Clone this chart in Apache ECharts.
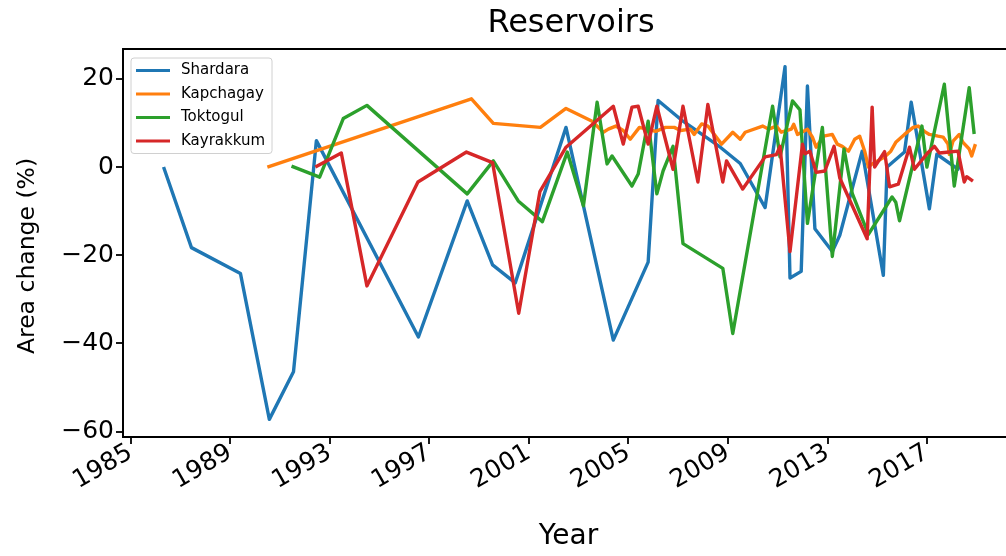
<!DOCTYPE html>
<html>
<head>
<meta charset="utf-8">
<script src="https://cdn.jsdelivr.net/npm/echarts@6/dist/echarts.min.js"></script>
<style>
  html, body { margin: 0; padding: 0; background: #fff; overflow: hidden; }
  /* canvas is a little wider than the page so the plot box runs past the right edge */
  #chart { width: 1020px; height: 556px; }
</style>
</head>
<body>
<div id="chart"></div>
<script>
// Reservoir surface-area change (%) by decimal year
const shardaraYears = [1986.33, 1987.45, 1989.42, 1990.58, 1991.55, 1992.47, 1996.57, 1998.53, 1999.55, 2000.46,
  2002.5, 2004.4, 2005.8, 2006.2, 2007.2, 2008.7, 2009.5, 2010.5, 2011.3, 2011.5, 2011.95, 2012.2, 2012.5,
  2013.2, 2013.5, 2014.4, 2015.25, 2015.4, 2016.1, 2016.37, 2017.1, 2017.4, 2018.25, 2018.35];
const shardaraValues = [0, -18.3, -24.2, -57.3, -46.5, 6, -38.6, -7.7, -22.2, -26.3,
  9, -39.3, -21.6, 15.1, 10.4, 4.5, 0.8, -9.2, 22.8, -25.2, -23.7, 18.4, -14,
  -19.2, -15.5, 3.6, -24.6, 0, 3.4, 14.7, -9.5, 2.9, -0.5, 1];

const kapchagayYears = [1990.5, 1998.7, 1999.58, 2001.47, 2002.5, 2003.55, 2004.0, 2004.2, 2004.5, 2004.8,
  2005.08, 2005.45, 2005.75, 2006.1, 2006.5, 2006.85, 2007.1, 2007.5, 2007.65, 2007.95, 2008.2, 2008.75,
  2009.2, 2009.5, 2009.7, 2010.4, 2010.65, 2010.95, 2011.15, 2011.55, 2011.65, 2011.8, 2012.2, 2012.4,
  2012.55, 2012.85, 2013.2, 2013.4, 2013.6, 2013.85, 2014.1, 2014.3, 2014.5, 2014.65, 2014.8, 2015.3,
  2015.55, 2015.75, 2016.1, 2016.45, 2016.65, 2016.9, 2017.1, 2017.45, 2017.65, 2017.85, 2017.9, 2018.05,
  2018.3, 2018.45, 2018.7, 2018.8, 2018.95];
const kapchagayValues = [0, 15.5, 9.9, 9, 13.3, 10.4, 7.9, 8.6, 9.3, 8.3,
  6.3, 9, 8.6, 8.1, 9, 9, 8.3, 8.6, 7.4, 9.8, 9.3, 5.2,
  7.9, 6.3, 7.9, 9.3, 8.6, 9.3, 7.9, 8.6, 9.7, 7.4, 8.6, 6.8,
  4.5, 7.0, 7.4, 5.2, 4.7, 3.6, 6.3, 7.0, 3.6, 0, 0.7, 2.3,
  3.6, 5.6, 7.4, 9, 9.3, 8.1, 7.4, 7, 6.8, 5.2, 2.9, 5.9,
  7.4, 5.6, 4.1, 2.5, 5.2];

const toktogulYears = [1991.47, 1992.6, 1993.55, 1994.5, 1998.53, 1999.58, 2000.58, 2001.55, 2002.55, 2003.2,
  2003.75, 2004.15, 2004.35, 2005.15, 2005.4, 2005.8, 2006.15, 2006.4, 2006.8, 2007.2, 2008.8, 2009.2,
  2010.8, 2011.1, 2011.6, 2011.9, 2012.2, 2012.8, 2013.2, 2013.67, 2014.0, 2014.65, 2015.6, 2015.75,
  2015.9, 2016.8, 2017.0, 2017.7, 2018.1, 2018.7, 2018.9];
const toktogulValues = [0.2, -2.3, 11, 14, -6.1, 1.4, -7.7, -12.4, 3.4, -8.8,
  14.7, 0.7, 2.5, -4.3, -1.6, 10.4, -6.1, -0.9, 4.7, -17.4, -23, -37.8,
  13.8, 2.3, 15, 13, -12.8, 9, -20.3, 4.1, -6, -15.3, -6.8, -8,
  -12.2, 9.3, 0, 18.8, -4.3, 18, 7.5];

const kayrakkumYears = [1992.43, 1993.47, 1994.5, 1996.55, 1998.5, 1999.55, 2000.6, 2001.45, 2002.5, 2004.4,
  2004.8, 2005.15, 2005.4, 2005.8, 2006.15, 2006.8, 2007.2, 2007.8, 2008.2, 2008.8, 2008.95, 2009.6,
  2010.5, 2010.95, 2011.1, 2011.5, 2012.0, 2012.1, 2012.3, 2012.55, 2012.9, 2013.27, 2013.5, 2014.6,
  2014.8, 2014.9, 2015.3, 2015.5, 2015.85, 2016.3, 2016.5, 2017.0, 2017.3, 2017.5, 2017.9, 2018.25,
  2018.5, 2018.6, 2018.85];
const kayrakkumValues = [0, 3.2, -27, -3.4, 3.4, 1, -33.2, -5.6, 4.5, 13.8,
  5.2, 13.6, 13.8, 5.2, 13.8, -0.5, 13.8, -3.4, 14.2, -3.4, 1.4, -5,
  2.3, 2.8, 4.7, -19.2, 5.2, 3, 3.6, -1.2, -0.9, 4.7, -2.5, -16.3,
  13.6, 0, 3.5, -4.5, -3.9, 4.5, -0.5, 3, 4.7, 3.2, 3.4, 3.6,
  -3.4, -2.2, -3.2];

const xTickYears = [1985, 1989, 1993, 1997, 2001, 2005, 2009, 2013, 2017];
const yTickValues = [-60, -40, -20, 0, 20];

const seriesNames = ['Shardara', 'Kapchagay', 'Toktogul', 'Kayrakkum'];
const seriesColors = ['#1f77b4', '#ff7f0e', '#2ca02c', '#d62728'];
const seriesYears = [shardaraYears, kapchagayYears, toktogulYears, kayrakkumYears];
const seriesValues = [shardaraValues, kapchagayValues, toktogulValues, kayrakkumValues];

const zip = (xs, ys) => xs.map((x, i) => [x, ys[i]]);
const FONT = 'DejaVu Sans';

const chart = echarts.init(document.getElementById('chart'), null, { renderer: 'canvas' });

chart.setOption({
  animation: false,
  backgroundColor: '#ffffff',
  title: {
    text: 'Reservoirs',
    left: 566,
    top: 3,
    textAlign: 'center',
    textStyle: { fontFamily: FONT, fontSize: 32, fontWeight: 'normal', color: '#000' }
  },
  legend: {
    orient: 'vertical',
    left: 131,
    top: 58,
    padding: [5, 7, 5, 5],
    itemGap: 8.5,
    itemWidth: 34,
    itemHeight: 3,
    icon: 'rect',
    backgroundColor: '#fff',
    borderColor: '#d0d0d0',
    borderWidth: 1,
    borderRadius: 3,
    textStyle: { fontFamily: FONT, fontSize: 15, color: '#000', padding: [0, 0, 0, 6] },
    data: seriesNames
  },
  // vertical axis title
  graphic: [{
    type: 'text',
    x: 28,
    y: 256,
    rotation: Math.PI / 2,
    style: {
      text: 'Area change (%)',
      fontFamily: FONT,
      fontSize: 23.5,
      fill: '#000',
      align: 'center',
      verticalAlign: 'middle'
    }
  }],
  grid: {
    left: 123,
    right: 6,
    top: 49,
    bottom: 116,
    show: true,
    borderColor: '#000',
    borderWidth: 1.8,
    containLabel: false
  },
  xAxis: {
    type: 'value',
    min: 1984.7,
    max: 2020.5,
    name: 'Year',
    nameLocation: 'middle',
    nameGap: 86,
    nameTextStyle: { fontFamily: FONT, fontSize: 28, color: '#000' },
    splitLine: { show: false },
    axisLine: { show: true, onZero: false, lineStyle: { color: '#000', width: 1.8 } },
    axisTick: { show: true, length: 7, lineStyle: { color: '#000', width: 1.8 }, customValues: xTickYears },
    axisLabel: {
      customValues: xTickYears,
      rotate: 30,
      margin: 14,
      fontFamily: FONT,
      fontSize: 25,
      color: '#000',
      formatter: v => String(Math.round(v))
    }
  },
  yAxis: {
    type: 'value',
    min: -61.3,
    max: 26.8,
    splitLine: { show: false },
    axisLine: { show: true, onZero: false, lineStyle: { color: '#000', width: 1.8 } },
    axisTick: { show: true, length: 7, lineStyle: { color: '#000', width: 1.8 }, customValues: yTickValues },
    axisLabel: {
      customValues: yTickValues,
      margin: 9,
      fontFamily: FONT,
      fontSize: 25,
      color: '#000',
      formatter: v => String(Math.round(v)).replace('-', '\u2212')
    }
  },
  series: seriesNames.map((name, i) => ({
    name,
    type: 'line',
    data: zip(seriesYears[i], seriesValues[i]),
    showSymbol: false,
    symbol: 'none',
    color: seriesColors[i],
    lineStyle: { color: seriesColors[i], width: 3.4, join: 'round' },
    clip: true
  }))
});
</script>
</body>
</html>
